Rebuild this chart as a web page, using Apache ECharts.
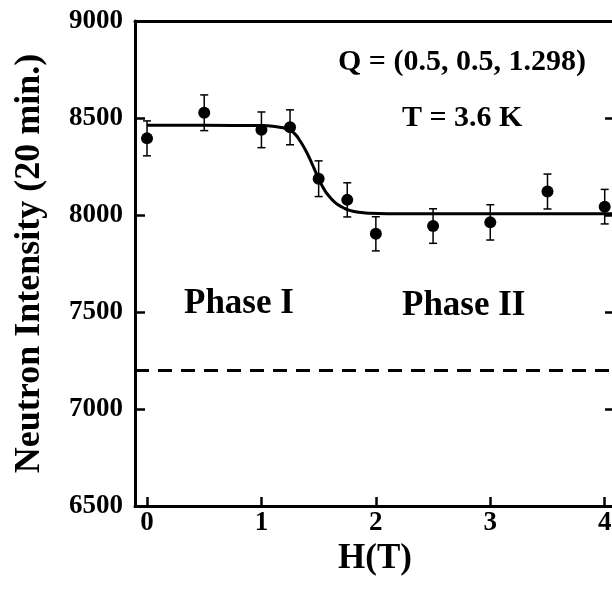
<!DOCTYPE html>
<html lang="en">
<head>
    <meta charset="UTF-8">
    <title>Neutron Intensity vs H</title>
    <style>
        body { margin: 0; overflow: hidden; background: #fff; }
        #box { width: 620px; height: 589px; }
    </style>
    <script src="https://cdn.jsdelivr.net/npm/echarts@6/dist/echarts.min.js"></script>
</head>
<body>
    <div id="box"></div>
    <script>
        // measured points
        const H = [0, 0.5, 1.0, 1.25, 1.5, 1.75, 2.0, 2.5, 3.0, 3.5, 4.0];
        const intensity = [8395, 8527, 8439, 8452, 8187, 8078, 7903, 7943, 7962, 8121, 8043];
        const err = [90, 92, 92, 90, 92, 88, 88, 89, 91, 90, 89];

        // fitted curve
        const fitH = [0, 0.5, 1.0, 1.1, 1.2, 1.25, 1.3, 1.34, 1.38, 1.42, 1.46, 1.5, 1.54, 1.57, 1.62, 1.66, 1.72, 1.77, 1.85, 1.95, 2.1, 2.5, 3.0, 3.5, 4.09];
        const fitI = [8462, 8462, 8461, 8458, 8448, 8438, 8413, 8380, 8340, 8293, 8240, 8186, 8140, 8112, 8078, 8057, 8036, 8024, 8014, 8009, 8007, 8007, 8007, 8007, 8007];

        const dashLevel = 7200;
        const xTicks = [0, 1, 2, 3, 4];

        (function () {
            const font = 'Liberation Serif';
            let chart = echarts.init(box);

            let axisLine = { onZero: false, lineStyle: { color: '#000', width: 3 } };

            let option = {
                animation: false,
                grid: { left: 135, right: 5, top: 21, bottom: 83 },
                xAxis: [{
                    type: 'value',
                    min: -0.105,
                    max: 4.09,
                    name: 'H(T)',
                    nameLocation: 'middle',
                    nameGap: 33,
                    nameTextStyle: { fontFamily: font, fontWeight: 'bold', fontSize: 35, color: '#000' },
                    axisLine: axisLine,
                    axisTick: { inside: true, length: 9, customValues: xTicks, lineStyle: { width: 2.5, color: '#000' } },
                    axisLabel: { customValues: xTicks, margin: 4, fontFamily: font, fontWeight: 'bold', fontSize: 27, color: '#000' },
                    splitLine: { show: false }
                }, {
                    type: 'value',
                    position: 'top',
                    min: -0.105,
                    max: 4.09,
                    axisLine: axisLine,
                    axisTick: { show: false },
                    axisLabel: { show: false },
                    splitLine: { show: false }
                }],
                yAxis: [{
                    type: 'value',
                    min: 6500,
                    max: 9000,
                    interval: 500,
                    name: 'Neutron Intensity (20 min.)',
                    nameLocation: 'middle',
                    nameGap: 87,
                    nameTextStyle: { fontFamily: font, fontWeight: 'bold', fontSize: 36, color: '#000' },
                    axisLine: axisLine,
                    axisTick: { inside: true, length: 10, lineStyle: { width: 2.5, color: '#000' } },
                    axisLabel: { margin: 12, formatter: v => String(v), fontFamily: font, fontWeight: 'bold', fontSize: 27, color: '#000' },
                    splitLine: { show: false }
                }, {
                    type: 'value',
                    position: 'right',
                    min: 6500,
                    max: 9000,
                    interval: 500,
                    axisLine: axisLine,
                    axisTick: { inside: true, length: 10, lineStyle: { width: 2.5, color: '#000' } },
                    axisLabel: { show: false },
                    splitLine: { show: false }
                }],
                graphic: [
                    { type: 'text', left: 338, top: 47, style: { text: 'Q = (0.5, 0.5, 1.298)', font: 'bold 30px "Liberation Serif"', fill: '#000' } },
                    { type: 'text', left: 402, top: 103, style: { text: 'T = 3.6 K', font: 'bold 30px "Liberation Serif"', fill: '#000' } },
                    { type: 'text', left: 184, top: 286, style: { text: 'Phase I', font: 'bold 35px "Liberation Serif"', fill: '#000' } },
                    { type: 'text', left: 402, top: 288, style: { text: 'Phase II', font: 'bold 35px "Liberation Serif"', fill: '#000' } }
                ],
                series: [
                    {
                        name: 'fit',
                        type: 'line',
                        data: fitH.map((h, i) => [h, fitI[i]]),
                        smooth: true,
                        showSymbol: false,
                        lineStyle: { color: '#000', width: 3 },
                        markLine: {
                            silent: true,
                            symbol: 'none',
                            label: { show: false },
                            lineStyle: { color: '#000', width: 3, type: [14, 9] },
                            data: [{ yAxis: dashLevel }]
                        }
                    },
                    {
                        name: 'error',
                        type: 'custom',
                        data: H.map((h, i) => [h, intensity[i] - err[i], intensity[i] + err[i]]),
                        renderItem: function (params, api) {
                            let lo = api.coord([api.value(0), api.value(1)]);
                            let hi = api.coord([api.value(0), api.value(2)]);
                            let w = 4;
                            let st = { stroke: '#000', lineWidth: 1.5 };
                            return {
                                type: 'group',
                                children: [
                                    { type: 'line', shape: { x1: lo[0], y1: lo[1], x2: hi[0], y2: hi[1] }, style: st },
                                    { type: 'line', shape: { x1: lo[0] - w, y1: lo[1], x2: lo[0] + w, y2: lo[1] }, style: st },
                                    { type: 'line', shape: { x1: hi[0] - w, y1: hi[1], x2: hi[0] + w, y2: hi[1] }, style: st }
                                ]
                            };
                        },
                        z: 3
                    },
                    {
                        name: 'data',
                        type: 'scatter',
                        data: H.map((h, i) => [h, intensity[i]]),
                        symbol: 'circle',
                        symbolSize: 12,
                        itemStyle: { color: '#000', opacity: 1 },
                        z: 4
                    }
                ]
            };

            chart.setOption(option);
        })();
    </script>
</body>
</html>
